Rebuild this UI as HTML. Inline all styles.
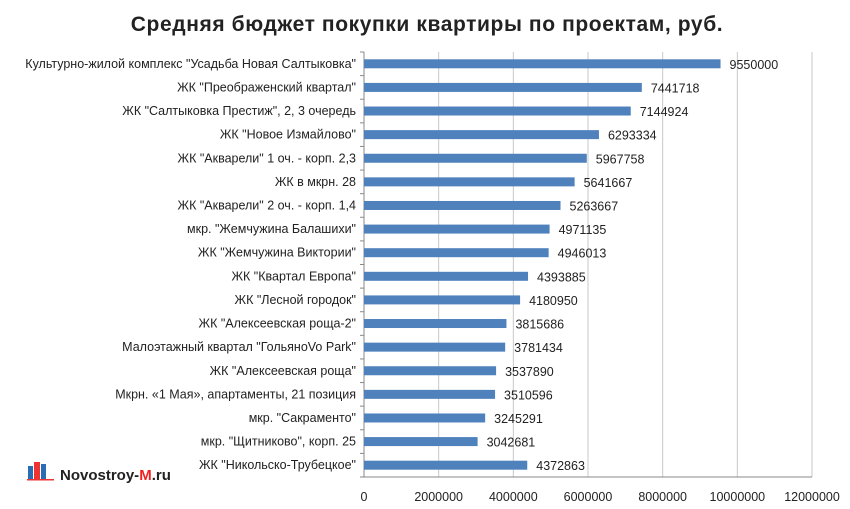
<!DOCTYPE html>
<html><head><meta charset="utf-8"><style>
body{margin:0;background:#fff;}
svg{display:block;font-family:"Liberation Sans","DejaVu Sans",sans-serif;}
</style></head><body>
<svg id="chart" width="850" height="509">
<text x="427" y="31" text-anchor="middle" font-size="21" font-weight="bold" fill="#222" letter-spacing="0.6">Средняя бюджет покупки квартиры по проектам, руб.</text>
<g id="grid"></g><g id="bars"></g><g id="ylab"></g><g id="xlab"></g>
<g>
<rect x="28" y="466" width="5" height="13" fill="#2a6db5"/><rect x="34" y="462" width="6" height="17" fill="#e33"/><rect x="41" y="464" width="5" height="15" fill="#2a6db5"/><rect x="27" y="479" width="27" height="1.5" fill="#e33"/>
<text x="60" y="480" font-size="15" font-weight="bold" fill="#222" font-family="'Liberation Sans Narrow','Liberation Sans',sans-serif">Novostroy-<tspan fill="#e22">M</tspan>.ru</text>
</g>
</svg>
<script>
const categories=["Культурно-жилой комплекс \"Усадьба Новая Салтыковка\"","ЖК \"Преображенский квартал\"","ЖК \"Салтыковка Престиж\", 2, 3 очередь","ЖК \"Новое Измайлово\"","ЖК \"Акварели\" 1 оч. - корп. 2,3","ЖК в мкрн. 28","ЖК \"Акварели\" 2 оч. - корп. 1,4","мкр. \"Жемчужина Балашихи\"","ЖК \"Жемчужина Виктории\"","ЖК \"Квартал Европа\"","ЖК \"Лесной городок\"","ЖК \"Алексеевская роща-2\"","Малоэтажный квартал \"ГольяноVo Park\"","ЖК \"Алексеевская роща\"","Мкрн. «1 Мая», апартаменты, 21 позиция","мкр. \"Сакраменто\"","мкр. \"Щитниково\", корп. 25","ЖК \"Никольско-Трубецкое\""];
const values=[9550000,7441718,7144924,6293334,5967758,5641667,5263667,4971135,4946013,4393885,4180950,3815686,3781434,3537890,3510596,3245291,3042681,4372863];
const ticks=[0,2000000,4000000,6000000,8000000,10000000,12000000];
const NS="http://www.w3.org/2000/svg";
const x0=364,x1=812,yT=52,yB=477,xMax=12000000;
const xs=v=>x0+v/xMax*(x1-x0);
const step=(yB-yT)/categories.length;
function mk(t,a,p){const e=document.createElementNS(NS,t);for(const k in a)e.setAttribute(k,a[k]);p.appendChild(e);return e;}
const grid=document.getElementById('grid'),bars=document.getElementById('bars'),yl=document.getElementById('ylab'),xl=document.getElementById('xlab');
ticks.forEach((t,i)=>{
 if(i>0){const g=mk('line',{x1:xs(t),x2:xs(t),y1:yT,y2:yB,stroke:'#c8c8c8','stroke-width':1},grid);
 
 }
 const tx=mk('text',{x:xs(t),y:yB+24,'text-anchor':'middle','font-size':12.5,fill:'#222'},xl);tx.textContent=t;
 
 
});
const ax=mk('line',{x1:x0,x2:x0,y1:yT,y2:yB,stroke:'#888'},grid);


const bx=mk('line',{x1:x0,x2:x1,y1:yB,y2:yB,stroke:'#888'},grid);


for(let i=0;i<=categories.length;i++){mk('line',{x1:x0-4,x2:x0,y1:yT+i*step,y2:yT+i*step,stroke:'#888'},grid);}
categories.forEach((c,i)=>{
 const cy=yT+step*(i+0.5);
 const r=mk('rect',{x:x0,y:cy-4.5,width:xs(values[i])-x0,height:9,fill:'#4f81bd'},bars);
 
 
 const v=mk('text',{x:xs(values[i])+9,y:cy+5,'font-size':12.5,fill:'#222'},bars);v.textContent=values[i];
 
 
 const l=mk('text',{x:x0-8,y:cy+4,'text-anchor':'end','font-size':12.5,fill:'#222'},yl);l.textContent=c;
 
 
});
</script>
</body></html>
